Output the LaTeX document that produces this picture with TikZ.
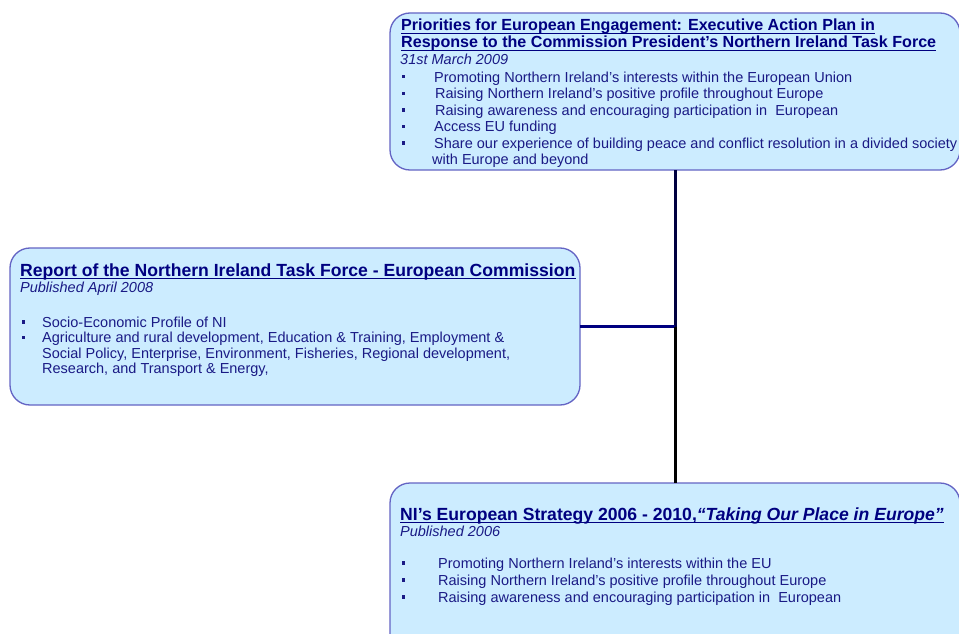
\documentclass[tikz,border=0pt]{standalone}
\usepackage{fontspec}
\setmainfont{Liberation Sans}
\definecolor{boxfill}{HTML}{CCECFF}
\definecolor{boxborder}{HTML}{6464C4}
\definecolor{navytext}{HTML}{000080}
\definecolor{bodytext}{HTML}{1A1A85}
\definecolor{connupper}{HTML}{000040}
\definecolor{connnavy}{HTML}{000080}
\tikzset{
  box/.style={draw=boxborder, line width=1.3pt, fill=boxfill, rounded corners=20pt,
    inner sep=0pt, outer sep=0pt, anchor=north west, rectangle},
  bodyline/.style={anchor=base west, inner sep=0pt, text=bodytext,
    font=\fontsize{14.5}{16}\selectfont},
  dateline/.style={bodyline, font=\fontsize{14.5}{16}\selectfont\itshape},
  titlesmall/.style={anchor=base west, inner sep=0pt, text=navytext,
    font=\fontsize{16.1}{19}\selectfont\bfseries},
  titlebig/.style={anchor=base west, inner sep=0pt, text=navytext,
    font=\fontsize{17.6}{20}\selectfont\bfseries},
  bulletmark/.style={fill=bodytext},
  underl/.style={draw=navytext, line width=1.1pt},
  connline/.style={line width=3pt},
}
\newcommand{\bul}[2]{\fill[bulletmark] (#1,#2-6.8) rectangle ++(3.3,3.3);}
\newcommand{\undl}[1]{\draw[underl] ([yshift=-2.4pt]#1.base west) -- ([yshift=-2.4pt]#1.base east);}
\begin{document}
\begin{tikzpicture}[x=1pt,y=-1pt]
\useasboundingbox (0,0) rectangle (959,634);
\clip (0,0) rectangle (959,634);
\fill[white] (0,0) rectangle (959,634);

% boxes
\node[box, minimum width=570pt, minimum height=157pt] (top) at (390,13) {};
\node[box, minimum width=570pt, minimum height=157pt] (left) at (10,248) {};
\node[box, minimum width=570pt, minimum height=175pt] (bottom) at (390,483) {};

% connectors
\coordinate (J) at (top.south |- left.east);
\draw[connline, draw=connupper] (top.south) -- (J);
\draw[connline, draw=connnavy] (left.east) -- (J);
\draw[connline, draw=black] (J) -- (bottom.north);

% top box text
\node[titlesmall] (tt1) at (401,31) {Priorities for European Engagement: Executive Action Plan in};
\node[titlesmall] (tt2) at (401,48) {Response to the Commission President’s Northern Ireland Task Force};
\undl{tt1}
\undl{tt2}
\node[dateline] (td) at (400,65) {31st March 2009};
\node[bodyline] (tb1) at (434,82) {Promoting Northern Ireland's interests within the European Union};
\node[bodyline] (tb2) at (435,98.5) {Raising Northern Ireland's positive profile throughout Europe};
\node[bodyline] (tb3) at (435,115) {Raising awareness and encouraging participation in\ \ European};
\node[bodyline] (tb4) at (434,131.5) {Access EU funding};
\node[bodyline] (tb5) at (434,148) {Share our experience of building peace and conflict resolution in a divided society};
\node[bodyline] (tb6) at (432,164.5) {with Europe and beyond};
\bul{402}{82}
\bul{402}{98.5}
\bul{402}{115}
\bul{402}{131.5}
\bul{402}{148}

% left box text
\node[titlebig] (lt) at (20,276) {Report of the Northern Ireland Task Force - European Commission};
\undl{lt}
\node[dateline] (ld) at (20,292) {Published April 2008};
\node[bodyline] (lb1) at (42,327) {Socio-Economic Profile of NI};
\node[bodyline] (lb2) at (42,342.5) {Agriculture and rural development, Education \& Training, Employment \&};
\node[bodyline] (lb3) at (42,358) {Social Policy, Enterprise, Environment, Fisheries, Regional development,};
\node[bodyline] (lb4) at (42,373.5) {Research, and Transport \& Energy,};
\bul{22}{327}
\bul{22}{342.5}

% bottom box text
\node[titlebig] (bt) at (400,520) {NI’s European Strategy 2006 - 2010,\textit{“Taking Our Place in Europe”}};
\undl{bt}
\node[dateline] (bd) at (400,536) {Published 2006};
\node[bodyline] (bb1) at (438,568) {Promoting Northern Ireland's interests within the EU};
\node[bodyline] (bb2) at (438,585) {Raising Northern Ireland's positive profile throughout Europe};
\node[bodyline] (bb3) at (438,602) {Raising awareness and encouraging participation in\ \ European};
\bul{402}{568}
\bul{402}{585}
\bul{402}{602}
\end{tikzpicture}
\end{document}
